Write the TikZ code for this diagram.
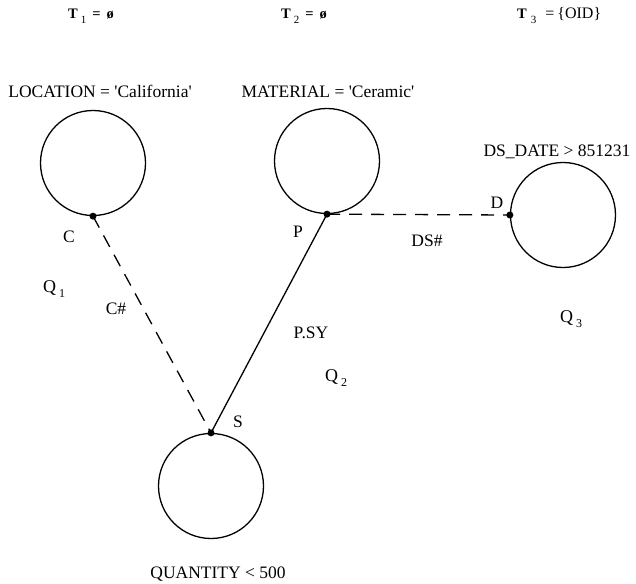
\documentclass[tikz,border=0pt]{standalone}
\usepackage{fontspec}
\setmainfont{Liberation Serif}
\newcommand{\sq}{\textquotesingle}
\begin{document}
\begin{tikzpicture}[x=1pt,y=-1pt,
  rel/.style={draw,circle,line width=1.3pt,minimum size=105pt,inner sep=0pt},
  lbl/.style={font=\fontsize{17.5}{19}\selectfont,inner sep=0pt,anchor=base},
  qlbl/.style={font=\fontsize{18}{20}\selectfont,inner sep=0pt,anchor=base west},
  ttl/.style={font=\bfseries\fontsize{14.5}{16}\selectfont,inner sep=0pt,anchor=base west},
  solidedge/.style={line width=1.3pt},
  dashedge/.style={line width=1.3pt,dash pattern=on 13pt off 9pt},
  dot/.style={fill,circle,inner sep=0pt,minimum size=7pt}]
\useasboundingbox (0,0) rectangle (636,583);

% relation circles
\node[rel] (c1) at (93,163) {};
\node[rel] (c2) at (327,161) {};
\node[rel] (c3) at (563,215) {};
\node[rel] (c4) at (211,486) {};

% join attributes on the circles
\coordinate (C) at (c1.south);
\coordinate (P) at (c2.south);
\coordinate (D) at (c3.west);
\coordinate (S) at (c4.north);

% join edges
\draw[dashedge] (C) -- (S);
\draw[solidedge] (P) -- (S);
\draw[dashedge] (P) -- (D);
\foreach \p in {C,P,D,S} \node[dot] at (\p) {};

% selection predicates
\node[lbl] (l1) at (100,98) {LOCATION = \sq California\sq};
\node[lbl] (l2) at (328,98) {MATERIAL = \sq Ceramic\sq};
\node[lbl] (l3) at (557,156) {DS\_DATE > 851231};
\node[lbl] (l4) at (218,578) {QUANTITY < 500};

% attribute names
\node[lbl] (nC) at (69,242) {C};
\node[lbl] (nP) at (298,237) {P};
\node[lbl] (nD) at (497,208) {D};
\node[lbl] (nS) at (238,427) {S};
\node[lbl] (eDS) at (427,246) {DS\#};
\node[lbl] (eC) at (116,314) {C\#};
\node[lbl] (eP) at (311,338) {P.SY};

% query labels
\node[qlbl] (q1) at (43,292) {Q\hspace{3pt}\raisebox{-5pt}{\fontsize{12}{12}\selectfont 1}};
\node[qlbl] (q2) at (325,381) {Q\hspace{3pt}\raisebox{-5pt}{\fontsize{12}{12}\selectfont 2}};
\node[qlbl] (q3) at (560,322) {Q\hspace{3pt}\raisebox{-5pt}{\fontsize{12}{12}\selectfont 3}};

% target lists
\node[ttl] (t1) at (68,19) {T\hspace{3pt}\raisebox{-5pt}{\mdseries\fontsize{11}{11}\selectfont 1}\hspace{6pt}=\hspace{6pt}ø};
\node[ttl] (t2) at (281,19) {T\hspace{3pt}\raisebox{-5pt}{\mdseries\fontsize{11}{11}\selectfont 2}\hspace{6pt}=\hspace{6pt}ø};
\node[ttl] (t3) at (517,19) {T\hspace{4pt}\raisebox{-5pt}{\mdseries\fontsize{11}{11}\selectfont 3}\hspace{9pt}{\mdseries\fontsize{16}{17}\selectfont =\hspace{3pt}\{OID\}}};
\end{tikzpicture}
\end{document}
